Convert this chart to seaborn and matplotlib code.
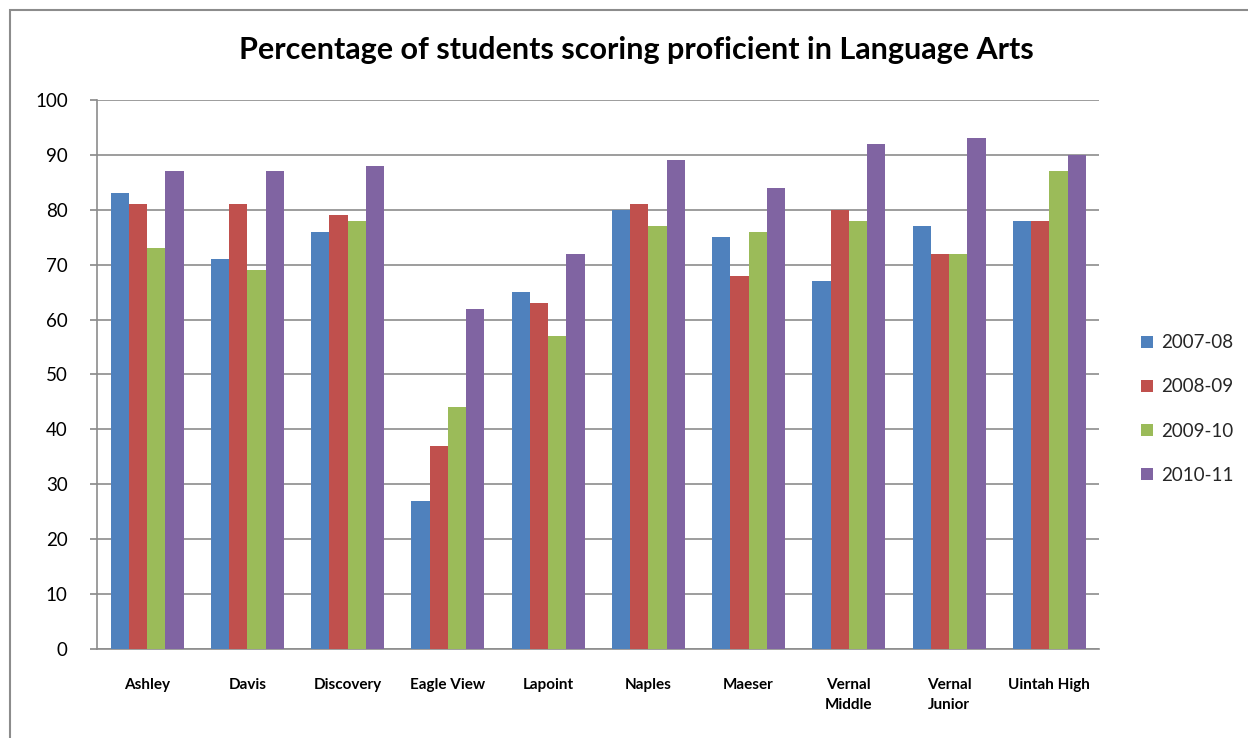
import matplotlib
matplotlib.use("Agg")
import matplotlib.pyplot as plt
import seaborn as sns
import pandas as pd
from matplotlib.patches import Rectangle

schools = ["Ashley", "Davis", "Discovery", "Eagle View", "Lapoint", "Naples",
           "Maeser", "Vernal\nMiddle", "Vernal\nJunior", "Uintah High"]
years = ["2007-08", "2008-09", "2009-10", "2010-11"]
y2007_08 = [83, 71, 76, 27, 65, 80, 75, 67, 77, 78]
y2008_09 = [81, 81, 79, 37, 63, 81, 68, 80, 72, 78]
y2009_10 = [73, 69, 78, 44, 57, 77, 76, 78, 72, 87]
y2010_11 = [87, 87, 88, 62, 72, 89, 84, 92, 93, 90]
colors = ["#4F81BD", "#C0504D", "#9BBB59", "#8064A2"]

rows = []
for yr, vals in zip(years, [y2007_08, y2008_09, y2009_10, y2010_11]):
    for s, v in zip(schools, vals):
        rows.append({"School": s, "Year": yr, "Value": v})
df = pd.DataFrame(rows)

sns.set_theme(style="white")
plt.rcParams['font.family'] = ['Lato', 'DejaVu Sans']

fig = plt.figure(figsize=(12.48, 7.38), dpi=100)
ax = fig.add_axes([0.0777, 0.1206, 0.8033, 0.7439])

sns.barplot(data=df, x="School", y="Value", hue="Year", order=schools,
            hue_order=years, palette=colors, width=0.73, saturation=1,
            edgecolor="none", ax=ax, zorder=3)

ax.set_ylim(0, 100)
ax.set_xlim(-0.5, len(schools) - 0.5)
ax.set_yticks(range(0, 101, 10))
ax.yaxis.grid(True, color="#8c8c8c", linewidth=1.2, zorder=0)
ax.set_axisbelow(True)
ax.set_xlabel("")
ax.set_ylabel("")
for side in ["top", "right"]:
    ax.spines[side].set_visible(False)
for side in ["left", "bottom"]:
    ax.spines[side].set_color("#8c8c8c")
    ax.spines[side].set_linewidth(1.2)
ax.tick_params(axis="y", which="both", left=True, length=5, color="#8c8c8c",
               labelsize=13.5, pad=16, labelcolor="#000000")
ax.tick_params(axis="x", bottom=False, labelsize=11, pad=15, labelcolor="#000000")
for lbl in ax.get_xticklabels():
    lbl.set_fontweight("bold")
    lbl.set_verticalalignment("top")
    lbl.set_linespacing(1.55)

fig.text(636 / 1248, 1 - 50 / 738,
         "Percentage of students scoring proficient in Language Arts",
         fontsize=22, fontweight="bold", ha="center", va="center", color="#000000")

handles, labels = ax.get_legend_handles_labels()
leg = ax.legend(handles, labels, loc="center left", bbox_to_anchor=(1.025, 0.437),
                frameon=False, fontsize=13.5, handlelength=0.6, handleheight=0.6,
                labelspacing=1.45, handletextpad=0.45)

fig.patches.append(Rectangle((10 / 1248, -0.1), 1.2, (738 - 10) / 738 + 0.1,
                             transform=fig.transFigure, fill=False,
                             edgecolor="#8c8c8c", linewidth=1.5))

fig.savefig("out.png", dpi=100)
